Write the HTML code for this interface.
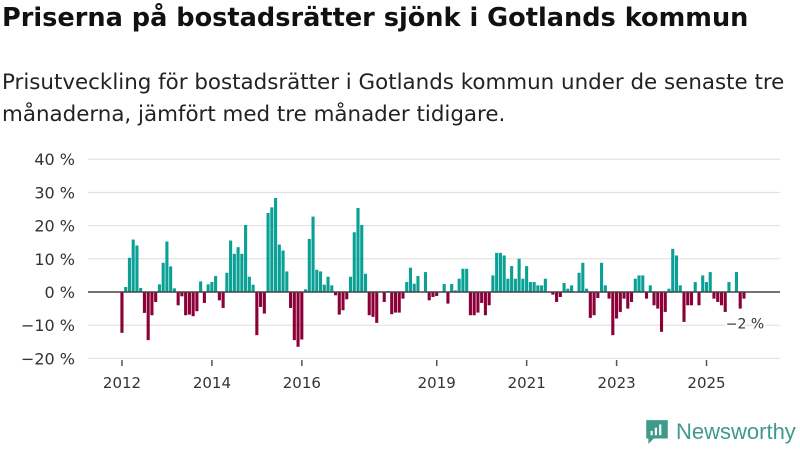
<!DOCTYPE html>
<html><head><meta charset="utf-8"><style>
body{margin:0;width:800px;height:450px;background:#fff;font-family:"DejaVu Sans","Liberation Sans",sans-serif;overflow:hidden;position:relative}
h1{position:absolute;left:2px;top:3px;margin:0;font-size:25.6px;font-weight:bold;color:#111;white-space:nowrap}
p{position:absolute;left:2px;top:67px;margin:0;font-size:21.4px;line-height:32px;color:#222;width:798px}
</style></head><body>
<h1>Priserna på bostadsrätter sjönk i Gotlands kommun</h1>
<p>Prisutveckling för bostadsrätter i Gotlands kommun under de senaste tre månaderna, jämfört med tre månader tidigare.</p>
<svg id="chart" width="800" height="450" style="position:absolute;left:0;top:0;font-family:'DejaVu Sans','Liberation Sans',sans-serif"></svg>
<div style="position:absolute;left:644px;top:418px;display:flex;align-items:center">
<svg width="26" height="28" viewBox="0 0 24 26"><path d="M2 2h20v17H9l-5 5v-5H2z" fill="#3f9a8c"/><rect x="6" y="12" width="2" height="4" fill="#fff"/><rect x="10" y="9" width="2" height="7" fill="#fff"/><rect x="14" y="6" width="2" height="10" fill="#fff"/></svg>
<span style="font-size:22px;color:#3f9a8c;margin-left:6px;font-family:'Liberation Sans',sans-serif">Newsworthy</span></div>
<script>
const values=[-12.3,1.5,10.3,15.8,14,1.2,-6.3,-14.5,-7,-3,2.3,8.8,15.2,7.7,1.1,-4,-1.3,-7,-6.8,-7.3,-5.8,3.2,-3.3,2.3,3,4.8,-2.5,-4.8,5.8,15.5,11.5,13.5,11.5,20.2,4.6,2.2,-13,-4.5,-6.5,23.8,25.5,28.3,14.3,12.5,6.2,-4.8,-14.5,-16.5,-14.3,0.8,16,22.7,6.7,6.2,2.2,4.6,2,-1,-6.8,
-5.5,-2.2,4.6,18,25.3,20.2,5.5,-7,-7.5,-9.3,0,-3,0.3,-6.7,-6.2,-6.2,-2,3,7.3,2.5,4.8,0,6,-2.5,-1.5,-1.2,0,2.4,-3.5,2.4,0.5,4,7,7,-7,-7,-6.2,-3.3,-7,-4,5,11.8,11.8,11,4,7.8,4,10,4,7.8,3,3,2,2,4,0,-0.8,-3,
-1.5,2.7,1,2,0,5.8,8.8,1,-7.8,-7,-1.8,8.8,2,-2,-13,-8,-6,-2,-5,-3,4,5,5,-2,2,-4,-5,-12,-6,1,13,11,2,-9,-4,-4,3,-4,5,3,6,-2,-3,-4,-6,3,0,6,-5,-2];
const yTicks=[40,30,20,10,0,-10,-20];
const yearLabels=[2012,2014,2016,2019,2021,2023,2025];
const startYear=2012;
const NS="http://www.w3.org/2000/svg";
const svg=document.getElementById('chart');
const y=v=>292-v*3.32;
const step=(744-122)/(values.length-1);
const x=i=>122+i*step;
const xYear=yr=>122+(yr-startYear)*12*step;
function mk(t,a){const e=document.createElementNS(NS,t);for(const k in a)e.setAttribute(k,a[k]);svg.appendChild(e);return e;}
yTicks.forEach(t=>{
 if(t!==0){const l=mk('line',{x1:88,x2:780,y1:y(t),y2:y(t),stroke:'#dddddd','stroke-width':1});
 
 }
 const tx=mk('text',{x:75,y:y(t)+6,'text-anchor':'end','font-size':16,fill:'#333'});
 tx.textContent=(t<0?'\u2212'+(-t):t)+' %';
 
 
});
values.forEach((v,i)=>{
 const r=mk('rect',{x:x(i)-1.6,width:3.1,y:Math.min(y(v),y(0)),height:Math.abs(y(v)-y(0)),fill:v>=0?'#0aa096':'#8c0038'});
 
 
});
const z=mk('line',{x1:88,x2:780,y1:y(0),y2:y(0),stroke:'#444','stroke-width':1.5});


yearLabels.forEach(yr=>{
 const tk=mk('line',{x1:xYear(yr),x2:xYear(yr),y1:360,y2:366,stroke:'#555','stroke-width':1.5});
 
 
 const tx=mk('text',{x:xYear(yr),y:388,'text-anchor':'middle','font-size':15,fill:'#333'});
 tx.textContent=yr;
 
 
});
const last=values[values.length-1];
const lb=mk('text',{x:x(values.length-1)+1,y:y(last)+30,'text-anchor':'middle','font-size':14,fill:'#333',stroke:'#fff','stroke-width':3,'paint-order':'stroke'});
lb.textContent='\u2212'+Math.abs(last)+' %';


</script>
</body></html>
